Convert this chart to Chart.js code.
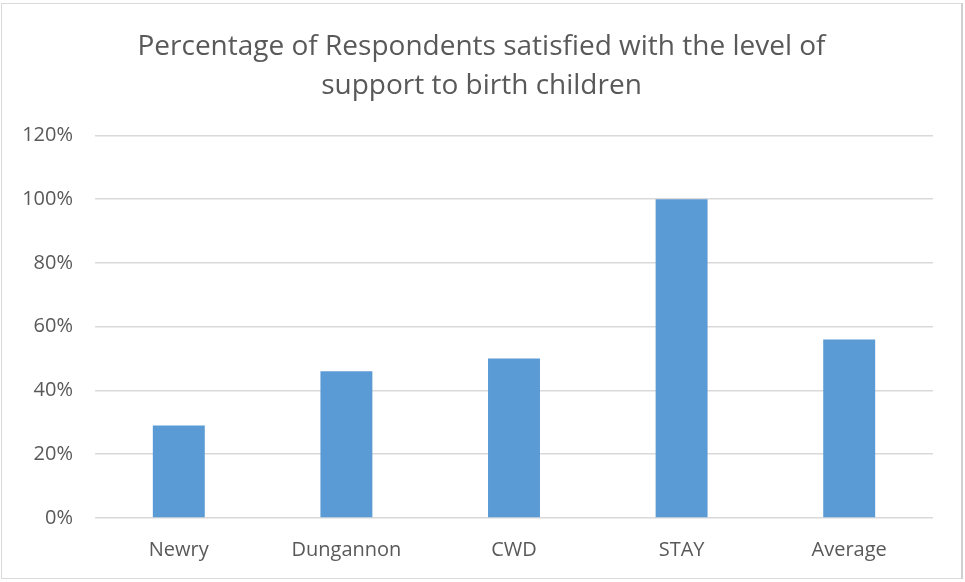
<!DOCTYPE html>
<html lang="en">
<head>
    <meta charset="UTF-8">
    <title>Support to birth children</title>
    <script src="https://cdn.jsdelivr.net/npm/chart.js"></script>
    <style>
        body {
            margin: 0;
            background: #fff;
        }
        .frame {
            position: absolute;
            left: 1px;
            top: 3px;
            width: 959px;
            height: 574px;
            border: 1px solid #d9d9d9;
            border-right: 2px solid #d0d0d0;
            background: #fff;
        }
    </style>
</head>
<body>
    <div class="frame">
        <canvas id="satChart" width="959" height="574"></canvas>
    </div>
    <script>
        const categories = ['Newry', 'Dungannon', 'CWD', 'STAY', 'Average'];
        const satisfied = [29, 46, 50, 100, 56];
        const yTicks = [0, 20, 40, 60, 80, 100, 120];

        const textColor = '#595959';

        const ctx = document.getElementById('satChart').getContext('2d');
        const chart = new Chart(ctx, {
            type: 'bar',
            data: {
                labels: categories,
                datasets: [{
                    label: 'Satisfied',
                    data: satisfied,
                    backgroundColor: '#5b9bd5',
                    borderWidth: 0,
                    barPercentage: 0.31,
                    categoryPercentage: 1
                }]
            },
            options: {
                responsive: false,
                animation: false,
                layout: {
                    padding: 0
                },
                plugins: {
                    legend: { display: false },
                    tooltip: { enabled: false },
                    title: {
                        display: true,
                        text: ['Percentage of Respondents satisfied with the level of', 'support to birth children'],
                        color: textColor,
                        font: { family: 'Open Sans', size: 28, weight: 'normal', lineHeight: 1.4 },
                        padding: { top: 23, bottom: 30 }
                    }
                },
                scales: {
                    x: {
                        afterFit: axis => {
                            axis.height = 60;
                        },
                        grid: { display: false, drawTicks: false },
                        border: { display: false },
                        ticks: {
                            color: textColor,
                            font: { family: 'Open Sans', size: 20 },
                            padding: 20
                        }
                    },
                    y: {
                        min: 0,
                        max: 120,
                        afterBuildTicks: axis => {
                            axis.ticks = yTicks.map(v => ({ value: v }));
                        },
                        afterFit: axis => {
                            axis.width = 93;
                        },
                        grid: { color: '#d9d9d9', lineWidth: 1.5, drawTicks: false },
                        border: { display: false },
                        ticks: {
                            color: textColor,
                            font: { family: 'Open Sans', size: 20 },
                            padding: 22,
                            callback: v => v + '%'
                        }
                    },
                    // empty right-hand axis, only keeps a margin so the title stays centred
                    yRight: {
                        position: 'right',
                        min: 0,
                        max: 120,
                        afterFit: axis => {
                            axis.width = 28;
                        },
                        grid: { display: false, drawTicks: false },
                        border: { display: false },
                        ticks: { display: false }
                    }
                }
            }
        });
    </script>
</body>
</html>
